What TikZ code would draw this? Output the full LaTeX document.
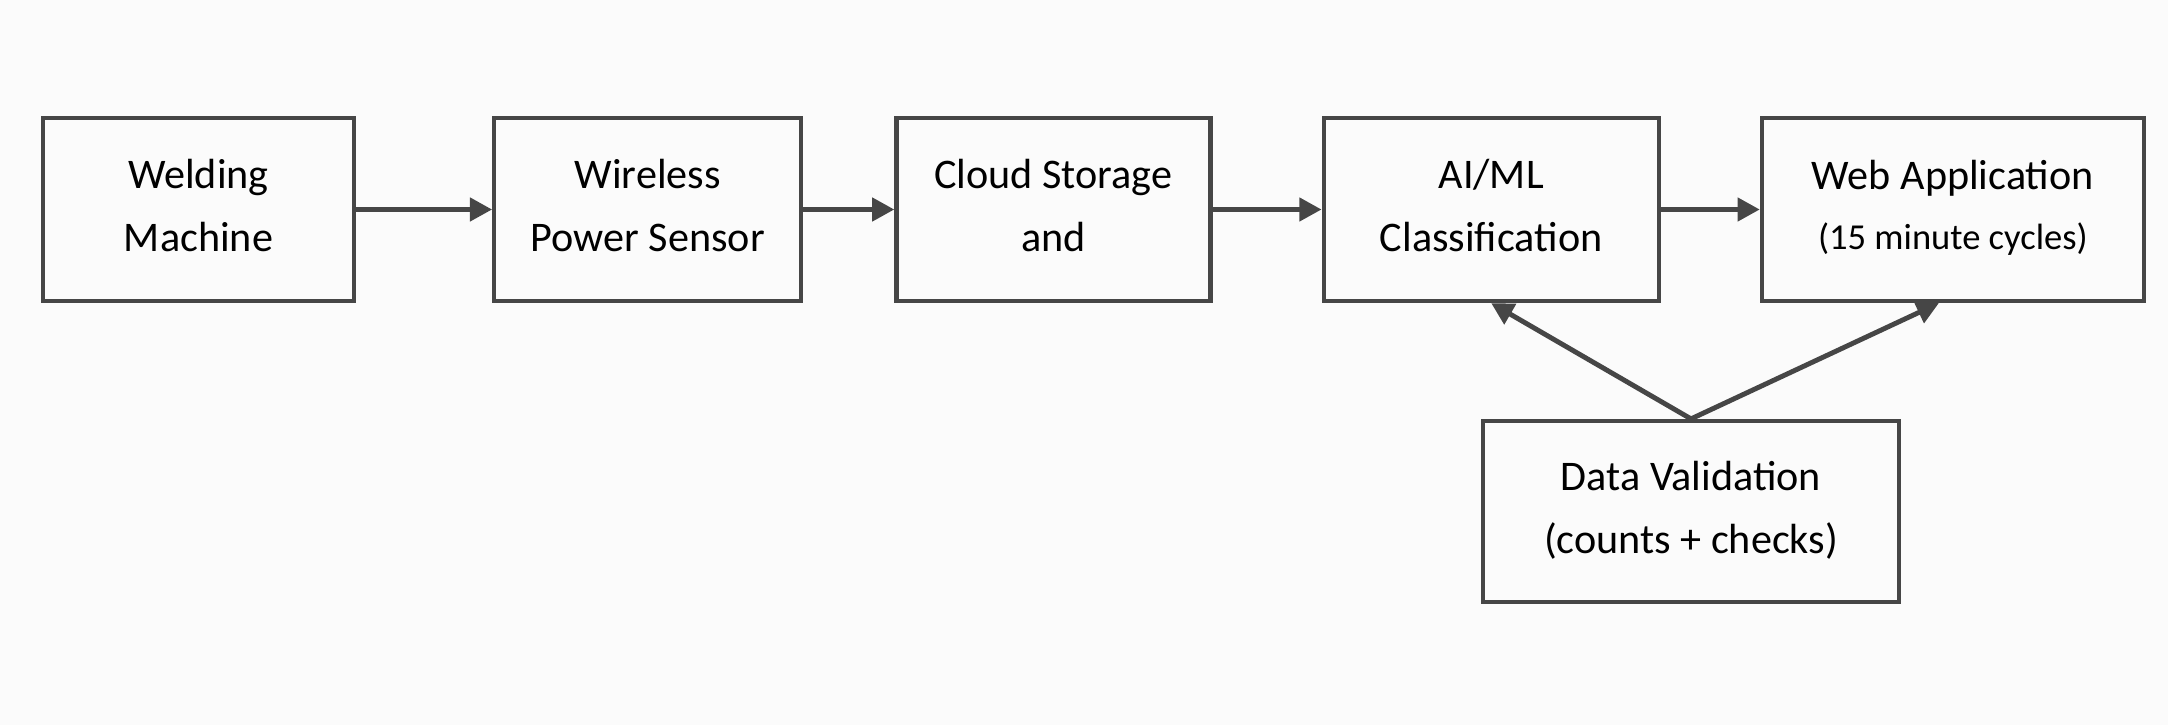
\documentclass[tikz,border=0pt]{standalone}
\usepackage{fontspec}
\setmainfont{Carlito}
\usetikzlibrary{arrows.meta, positioning}
\definecolor{ink}{HTML}{464646}
\definecolor{paper}{HTML}{FBFBFB}

\begin{document}
\begin{tikzpicture}[
      box/.style={draw=ink, line width=1.2pt, minimum height=1.83cm, inner sep=0pt, text depth=0.09cm,
                  align=center, font=\fontsize{12}{18}\selectfont, text=black},
      arr/.style={-{Triangle[length=6.3pt, width=6.5pt]}, ink, line width=1.4pt}]
    \fill[paper] (0,0) rectangle (21.68,-7.25);
    \useasboundingbox (0,0) rectangle (21.68,-7.25);
    \node[box, minimum width=3.11cm] at (1.985,-2.095) (weld) {Welding\\Machine};
    \node[box, minimum width=3.07cm, right=1.36cm of weld] (sens) {Wireless\\Power Sensor};
    \node[box, minimum width=3.14cm, right=0.91cm of sens] (cloud) {Cloud Storage\\and};
    \node[box, minimum width=3.35cm, right=1.09cm of cloud] (cls) {AI/ML\\Classification};
    \node[box, minimum width=3.82cm, right=0.99cm of cls] (web)
         {Web Application\\[-1pt]{\fontsize{10.4}{17}\selectfont (15 minute cycles)}};
    \node[box, minimum width=4.16cm, minimum height=1.81cm] at (16.91,-5.115) (valid)
         {Data Validation\\(counts + checks)};
    \draw[arr](weld)--(sens);\draw[arr](sens)--(cloud);\draw[arr](cloud)--(cls);\draw[arr](cls)--(web);
    \draw[arr](valid.north)--(cls.south);\draw[arr](valid.north)--([xshift=-0.14cm]web.south);
  \end{tikzpicture}
\end{document}
